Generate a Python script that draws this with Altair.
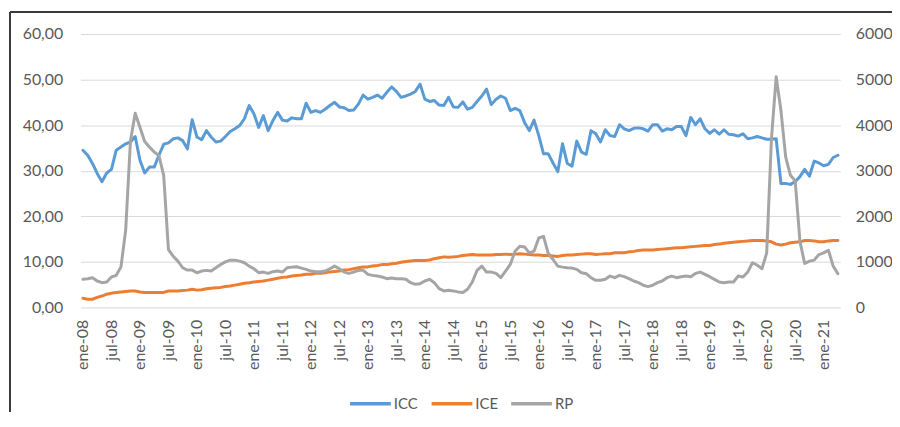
import altair as alt
import pandas as pd

# ---- categories ----
MESES = ["ene", "feb", "mar", "abr", "may", "jun", "jul", "ago", "sep", "oct", "nov", "dic"]
meses = [f"{m}-{y:02d}" for y in range(8, 22) for m in MESES][:160]   # ene-08 .. abr-21
tick_labels = meses[::6]                                               # ene-08, jul-08, ...

# ---- series ----
icc = [
    34.5, 33.4, 31.6, 29.4, 27.6, 29.5, 30.3, 34.5, 35.2, 35.9, 36.3, 37.5,
    32.3, 29.5, 30.8, 30.8, 33.4, 35.8, 36.1, 37.0, 37.2, 36.6, 34.8, 41.2,
    37.4, 36.8, 38.8, 37.4, 36.3, 36.5, 37.5, 38.6, 39.2, 39.9, 41.4, 44.3,
    42.5, 39.5, 42.1, 38.8, 41.0, 42.8, 41.1, 40.9, 41.6, 41.4, 41.4, 44.8,
    42.8, 43.2, 42.8, 43.5, 44.3, 45.0, 44.0, 43.8, 43.2, 43.3, 44.6, 46.6,
    45.7, 46.1, 46.6, 45.9, 47.2, 48.4, 47.4, 46.1, 46.4, 46.8, 47.4, 49.0,
    45.7, 45.2, 45.4, 44.4, 44.3, 46.1, 44.0, 43.9, 45.1, 43.5, 43.9, 45.2,
    46.4, 47.9, 44.5, 45.7, 46.4, 45.9, 43.2, 43.7, 43.2, 40.6, 38.8, 41.1,
    37.7, 33.7, 33.7, 31.7, 29.8, 35.9, 31.6, 31.0, 36.5, 34.1, 33.6, 38.8,
    38.1, 36.3, 39.0, 37.7, 37.5, 40.1, 39.2, 38.8, 39.3, 39.4, 39.2, 38.7,
    40.1, 40.1, 38.7, 39.2, 39.0, 39.7, 39.7, 37.7, 41.7, 40.1, 41.4, 39.2,
    38.2, 39.0, 38.0, 39.0, 38.0, 37.9, 37.6, 38.1, 37.0, 37.2, 37.5, 37.2,
    36.9, 36.9, 37.0, 27.2, 27.2, 27.0, 27.6, 28.7, 30.3, 28.8, 32.1, 31.7,
    31.1, 31.4, 32.9, 33.4,
]
ice = [
    2.0, 1.8, 1.8, 2.2, 2.5, 2.9, 3.1, 3.3, 3.4, 3.5, 3.6, 3.6,
    3.4, 3.3, 3.3, 3.3, 3.3, 3.3, 3.6, 3.6, 3.6, 3.7, 3.8, 4.0,
    3.8, 3.9, 4.1, 4.2, 4.3, 4.4, 4.6, 4.7, 4.9, 5.1, 5.3, 5.4,
    5.6, 5.7, 5.8, 6.0, 6.2, 6.4, 6.6, 6.7, 6.9, 7.0, 7.1, 7.3,
    7.3, 7.5, 7.5, 7.6, 7.8, 7.9, 8.0, 8.2, 8.3, 8.5, 8.7, 8.9,
    8.9, 9.1, 9.2, 9.4, 9.4, 9.6, 9.7, 9.9, 10.1, 10.2, 10.3, 10.3,
    10.3, 10.4, 10.7, 10.9, 11.1, 11.0, 11.1, 11.2, 11.4, 11.5, 11.6, 11.5,
    11.5, 11.5, 11.5, 11.6, 11.6, 11.7, 11.6, 11.7, 11.8, 11.7, 11.6, 11.5,
    11.5, 11.4, 11.4, 11.3, 11.2, 11.4, 11.5, 11.5, 11.6, 11.7, 11.8, 11.8,
    11.6, 11.7, 11.8, 11.8, 12.0, 12.0, 12.0, 12.2, 12.3, 12.5, 12.6, 12.6,
    12.6, 12.7, 12.8, 12.9, 13.0, 13.1, 13.1, 13.2, 13.3, 13.4, 13.5, 13.6,
    13.6, 13.8, 13.9, 14.1, 14.2, 14.3, 14.4, 14.5, 14.6, 14.7, 14.7, 14.7,
    14.6, 14.4, 13.9, 13.7, 13.9, 14.2, 14.3, 14.4, 14.7, 14.7, 14.6, 14.4,
    14.4, 14.6, 14.7, 14.7,
]
rp = [
    617, 631, 653, 580, 544, 559, 668, 704, 885, 1700, 3650, 4260,
    3955, 3640, 3520, 3411, 3330, 2900, 1270, 1125, 1016, 871, 820, 820,
    762, 798, 813, 798, 871, 943, 1001, 1038, 1038, 1016, 980, 907,
    849, 762, 776, 747, 784, 798, 776, 871, 885, 893, 864, 835,
    798, 784, 784, 798, 849, 907, 849, 776, 747, 776, 813, 820,
    726, 704, 689, 668, 631, 646, 631, 631, 617, 544, 508, 522,
    580, 617, 544, 414, 363, 377, 363, 341, 327, 399, 559, 813,
    907, 776, 776, 747, 653, 798, 943, 1234, 1342, 1328, 1197, 1234,
    1524, 1560, 1183, 1052, 907, 885, 871, 864, 835, 762, 740, 653,
    595, 595, 617, 689, 653, 704, 675, 631, 580, 544, 486, 457,
    486, 544, 580, 653, 689, 653, 675, 689, 675, 747, 776, 726,
    675, 617, 559, 544, 559, 559, 689, 668, 776, 980, 929, 849,
    1197, 3700, 5060, 4320, 3300, 2900, 2780, 1450, 965, 1016, 1038, 1161,
    1197, 1255, 907, 740,
]

SERIES = ["ICC", "ICE", "RP"]
COLORS = ["#5B9BD5", "#ED7D31", "#A5A5A5"]

df = pd.DataFrame({"mes": meses, "ICC": icc, "ICE": ice, "RP": rp})

FONT = "Lato"
TXT = "#595959"

x_enc = alt.X(
    "mes:O",
    sort=meses,
    scale=alt.Scale(type="point", padding=0.5),
    axis=alt.Axis(
        values=tick_labels, labelAngle=270, title=None, grid=False, domain=False,
        ticks=False, labelPadding=12, labelFontSize=16, labelColor=TXT, labelFont=FONT,
    ),
)

color_enc = alt.Color(
    "serie:N",
    scale=alt.Scale(domain=SERIES, range=COLORS),
    legend=alt.Legend(
        title=None, orient="none", legendX=269, legendY=349, direction="horizontal",
        symbolType="stroke", symbolSize=1681, symbolStrokeWidth=3.5,
        labelFontSize=15, labelColor=TXT, labelFont=FONT, labelOffset=1,
        columnPadding=6,
    ),
)

line_kw = dict(strokeWidth=3, strokeJoin="round", strokeCap="round")

left = (
    alt.Chart(df)
    .transform_fold(["ICC", "ICE"], as_=["serie", "valor"])
    .mark_line(**line_kw)
    .encode(
        x=x_enc,
        y=alt.Y(
            "valor:Q",
            scale=alt.Scale(domain=[0, 60]),
            axis=alt.Axis(
                orient="left", values=[0, 10, 20, 30, 40, 50, 60], title=None,
                labelExpr="replace(format(datum.value, '.2f'), '.', ',')",
                grid=True, gridColor="#D9D9D9", gridWidth=1, domain=False, ticks=False,
                labelPadding=18, labelFontSize=16, labelColor=TXT, labelFont=FONT,
            ),
        ),
        color=color_enc,
    )
)

right = (
    alt.Chart(df)
    .transform_fold(["RP"], as_=["serie", "valor"])
    .mark_line(**line_kw)
    .encode(
        x=x_enc,
        y=alt.Y(
            "valor:Q",
            scale=alt.Scale(domain=[0, 6000]),
            axis=alt.Axis(
                orient="right", values=[0, 1000, 2000, 3000, 4000, 5000, 6000], title=None,
                format="d", grid=False, domain=False, ticks=False,
                labelPadding=15, labelFontSize=16, labelColor=TXT, labelFont=FONT,
            ),
        ),
        color=color_enc,
    )
)

frame_df = pd.DataFrame({"k": [0]})
frame_top = alt.Chart(frame_df).mark_rule(color="#3A3A3A", strokeWidth=2).encode(
    x=alt.value(-71), x2=alt.value(860), y=alt.value(-22)
)
frame_left = alt.Chart(frame_df).mark_rule(color="#3A3A3A", strokeWidth=2).encode(
    x=alt.value(-71), y=alt.value(-22), y2=alt.value(420)
)

chart = (
    alt.layer(left, right, frame_top, frame_left)
    .resolve_scale(y="independent")
    .properties(
        width=764, height=275,
        autosize=alt.AutoSizeParams(type="none"),
        padding={"left": 73, "top": 25, "right": 52, "bottom": 104},
        background="white",
    )
    .configure_view(stroke=None)
)

chart.save("out.html", embed_options={"renderer": "svg", "actions": False})
